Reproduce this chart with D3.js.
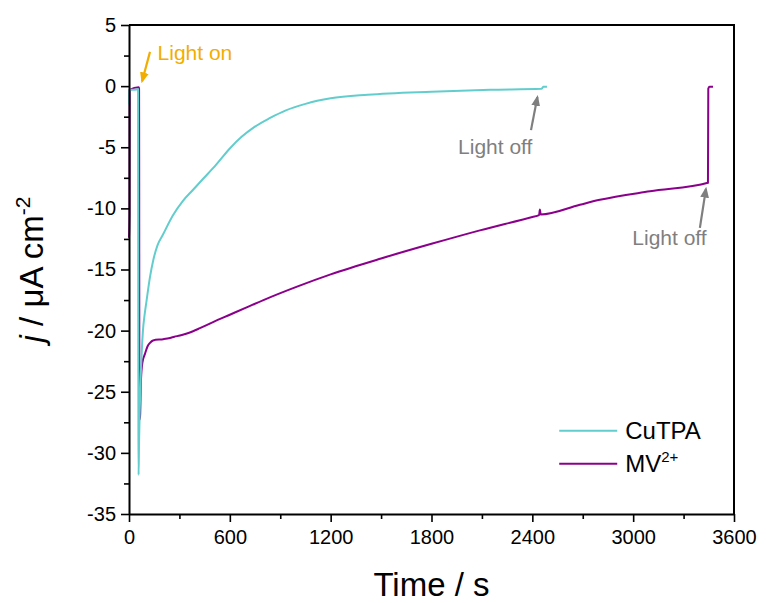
<!DOCTYPE html>
<meta charset="utf-8" />
<script src="https://d3js.org/d3.v7.min.js"></script>
<style>
  body { margin: 0; background: #fff; }
  svg text { font-family: "Liberation Sans", Arial, sans-serif; }
</style>
<div id="chart"></div>
<script>
  // CuTPA photocurrent trace (time in s, j in uA cm^-2)
  const cutpaTime = [0, 2, 5, 30, 54, 55, 56, 57, 60, 64, 68, 75, 83, 92, 105, 125, 145, 170, 200, 260, 320, 380, 440, 520, 600, 670, 745, 840, 930, 1050, 1200, 1420, 1800, 2150, 2455, 2465, 2487];
  const cutpaJ = [-1.5, -0.4, -0.3, -0.3, -0.25, -15, -28, -31.8, -29, -26.5, -24.5, -22, -20, -18.8, -17.5, -15.6, -14.2, -13.0, -12.2, -10.6, -9.4, -8.5, -7.6, -6.4, -5.1, -4.15, -3.35, -2.6, -2.0, -1.45, -1.0, -0.7, -0.45, -0.3, -0.22, -0.05, -0.05];

  // MV2+ trace
  const mvTime = [0, 3, 4, 58, 60, 62, 66, 71, 80, 95, 110, 125, 143, 204, 244, 270, 303, 340, 381, 422, 500, 600, 700, 800, 1000, 1200, 1500, 1800, 2088, 2400, 2440, 2445, 2450, 2683, 2802, 3100, 3445, 3447, 3455, 3475];
  const mvJ = [-12.4, -10.4, -0.3, -0.1, -0.2, -27.3, -27.0, -24.1, -22.6, -21.9, -21.3, -21.0, -20.8, -20.7, -20.6, -20.5, -20.4, -20.25, -20.05, -19.8, -19.3, -18.7, -18.1, -17.5, -16.4, -15.4, -14.1, -12.9, -11.8, -10.7, -10.55, -10.1, -10.5, -9.7, -9.3, -8.6, -7.9, -0.2, -0.05, -0.05];

  const xTicks = [0, 600, 1200, 1800, 2400, 3000, 3600];
  const xMinor = [300, 900, 1500, 2100, 2700, 3300];
  const yTicks = [5, 0, -5, -10, -15, -20, -25, -30, -35];
  const yMinor = [2.5, -2.5, -7.5, -12.5, -17.5, -22.5, -27.5, -32.5];

  const cyan = "#63CDCD", purple = "#8B008B", orange = "#F2AE00", grey = "#7F7F7F";

  const margin = { top: 25, right: 32, bottom: 89, left: 129 },
    width = 766 - margin.left - margin.right,
    height = 603 - margin.top - margin.bottom;

  const svg = d3.select("#chart")
    .append("svg")
    .attr("width", 766)
    .attr("height", 603)
    .append("g")
    .attr("transform", `translate(${margin.left}, ${margin.top})`);

  const x = d3.scaleLinear().domain([0, 3600]).range([0, width]);
  const y = d3.scaleLinear().domain([-35, 5]).range([height, 0]);

  // traces
  const line = d3.line().x(d => x(d[0])).y(d => y(d[1])).curve(d3.curveMonotoneX);
  svg.append("path")
    .datum(mvTime.map((t, i) => [t, mvJ[i]]))
    .attr("d", line)
    .attr("fill", "none")
    .attr("stroke", purple)
    .attr("stroke-width", 2);
  svg.append("path")
    .datum(cutpaTime.map((t, i) => [t, cutpaJ[i]]))
    .attr("d", line)
    .attr("fill", "none")
    .attr("stroke", cyan)
    .attr("stroke-width", 2);

  // axes
  const fmt = d => String(d);
  svg.append("g")
    .attr("transform", `translate(0, ${height})`)
    .call(d3.axisBottom(x).tickValues(xTicks).tickFormat(fmt).tickSize(8).tickSizeOuter(0).tickPadding(8));
  svg.append("g")
    .attr("transform", `translate(0, ${height})`)
    .call(d3.axisBottom(x).tickValues(xMinor).tickSize(5).tickFormat(""))
    .select(".domain").remove();

  svg.append("g")
    .call(d3.axisLeft(y).tickValues(yTicks).tickFormat(fmt).tickSize(8).tickSizeOuter(0).tickPadding(5));
  svg.append("g")
    .call(d3.axisLeft(y).tickValues(yMinor).tickSize(5).tickFormat(""))
    .select(".domain").remove();

  svg.selectAll(".tick line").attr("stroke", "#000").attr("stroke-width", 1.6);
  svg.selectAll(".domain").attr("stroke-width", 2);
  svg.selectAll(".tick text").style("font-size", "20px").attr("fill", "#000");

  // top + right frame
  svg.append("path")
    .attr("d", `M0,0H${width}V${height}`)
    .attr("fill", "none")
    .attr("stroke", "#000")
    .attr("stroke-width", 2);

  // axis titles
  svg.append("text")
    .attr("x", width / 2)
    .attr("y", height + 82)
    .attr("text-anchor", "middle")
    .style("font-size", "33px")
    .text("Time / s");

  const yl = svg.append("text")
    .attr("transform", `translate(-86, ${height / 2}) rotate(-90)`)
    .attr("text-anchor", "middle")
    .style("font-size", "33px");
  yl.append("tspan").style("font-style", "italic").text("j");
  yl.append("tspan").text(" / μA cm");
  yl.append("tspan").attr("dy", -13).style("font-size", "21px").text("-2");

  // annotations
  const defs = svg.append("defs");
  function marker(id, color) {
    defs.append("marker")
      .attr("id", id)
      .attr("viewBox", "0 0 10 10")
      .attr("refX", 8).attr("refY", 5)
      .attr("markerUnits", "userSpaceOnUse")
      .attr("markerWidth", 11).attr("markerHeight", 11)
      .attr("orient", "auto")
      .append("path").attr("d", "M0,1L10,5L0,9z").attr("fill", color);
  }
  marker("arOn", orange);
  marker("arOff", grey);

  function note(label, color, mid, tx, ty, x1, y1, x2, y2) {
    svg.append("line")
      .attr("x1", x(x1)).attr("y1", y(y1)).attr("x2", x(x2)).attr("y2", y(y2))
      .attr("stroke", color).attr("stroke-width", 2.2)
      .attr("marker-end", `url(#${mid})`);
    svg.append("text")
      .attr("x", x(tx)).attr("y", y(ty))
      .attr("fill", color)
      .style("font-size", "21px")
      .text(label);
  }
  note("Light on", orange, "arOn", 170, 2.1, 125, 2.8, 78, 0.4);
  note("Light off", grey, "arOff", 1958, -5.55, 2392, -3.6, 2430, -0.9);
  note("Light off", grey, "arOff", 2995, -13.0, 3397, -11.6, 3433, -8.4);

  // legend
  const legend = svg.append("g").attr("transform", `translate(${x(2560)}, ${y(-28.2)})`);
  const items = [["CuTPA", cyan, ""], ["MV", purple, "2+"]];
  items.forEach((it, i) => {
    const g = legend.append("g").attr("transform", `translate(0, ${i * 33})`);
    g.append("line").attr("x1", 0).attr("x2", 58).attr("stroke", it[1]).attr("stroke-width", 2);
    const t = g.append("text").attr("x", 66).attr("y", 8).style("font-size", "24px").text(it[0]);
    if (it[2]) t.append("tspan").attr("dy", -10).style("font-size", "15px").text(it[2]);
  });
</script>
